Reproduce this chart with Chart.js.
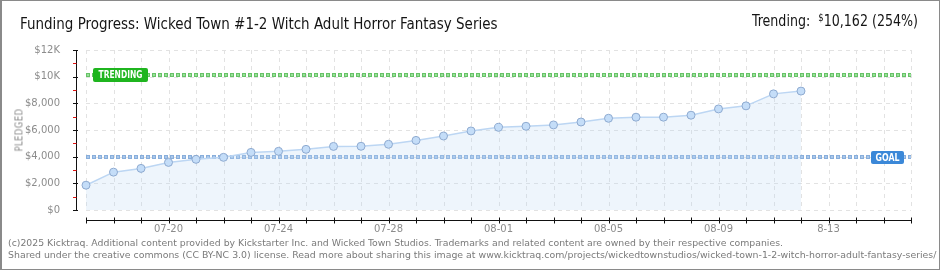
<!DOCTYPE html>
<html><head><meta charset="utf-8">
<script src="https://cdn.jsdelivr.net/npm/chart.js@4"></script>
<style>
html,body{margin:0;padding:0;background:#fff;}
#wrap{position:relative;width:940px;height:270px;overflow:hidden;background:#fff;}
#frame{position:absolute;left:0;top:0;width:940px;height:270px;box-sizing:border-box;border:1px solid #8a8a8a;border-left:2px solid #8a8a8a;pointer-events:none;}
canvas{position:absolute;left:0;top:0;}
.t{position:absolute;white-space:nowrap;transform-origin:0 50%;line-height:1.2;}
#title{font-family:"DejaVu Sans Condensed","DejaVu Sans",sans-serif;font-size:15px;color:#151515;}
#trend{font-family:"DejaVu Sans Condensed","DejaVu Sans",sans-serif;font-size:15px;color:#151515;}
#trend sup{font-size:10px;vertical-align:5px;line-height:0;}
.foot{font-family:"DejaVu Sans Condensed","DejaVu Sans",sans-serif;font-size:9px;color:#7a7a7a;}
#yt{font-family:"DejaVu Sans",sans-serif;font-size:10px;color:#8c8c8c;transform-origin:50% 50%;letter-spacing:0.5px;}
</style></head><body>
<div id="wrap">
<canvas id="c" width="940" height="270"></canvas>
<div id="title" class="t">Funding Progress: Wicked Town #1-2 Witch Adult Horror Fantasy Series</div>
<div id="trend" class="t">Trending:&nbsp; <sup>$</sup>10,162 (254%)</div>
<div id="yt" class="t">PLEDGED</div>
<div id="f1" class="t foot">(c)2025 Kicktraq. Additional content provided by Kickstarter Inc. and Wicked Town Studios. Trademarks and related content are owned by their respective companies.</div>
<div id="f2" class="t foot">Shared under the creative commons (CC BY-NC 3.0) license. Read more about sharing this image at www.kicktraq.com/projects/wickedtownstudios/wicked-town-1-2-witch-horror-adult-fantasy-series/</div>
<div id="frame"></div>
</div>
<script>
// ---- data ----
const days = ['07-17','07-18','07-19','07-20','07-21','07-22','07-23','07-24','07-25','07-26','07-27','07-28','07-29','07-30','07-31','08-01','08-02','08-03','08-04','08-05','08-06','08-07','08-08','08-09','08-10','08-11','08-12','08-13','08-14','08-15','08-16'];
const pledged = [1860,2840,3120,3570,3800,3950,4320,4400,4550,4770,4780,4930,5220,5550,5930,6200,6280,6380,6600,6880,6960,6960,7110,7580,7810,8710,8920];
const xTickText = {'07-20':'07-20','07-24':'07-24','07-28':'07-28','08-01':'08-01','08-05':'08-05','08-09':'08-09','08-13':'8-13'};
const yTickValues = [0,2000,4000,6000,8000,10000,12000];
const yTickLabels = ['$0','$2,000','$4,000','$6,000','$8,000','$10K','$12K'];
const yMinorValues = [1000,3000,5000,7000,9000,11000];
const goal = 4000;
const trending = 10162;

// ---- text placement helpers ----
function fit(id, left, cy, width, alignRight){
  const el = document.getElementById(id);
  const w = el.offsetWidth, h = el.offsetHeight;
  const s = width / w;
  el.style.left = (alignRight ? left - width : left) + 'px';
  el.style.top = (cy - h/2) + 'px';
  el.style.transform = 'scaleX(' + s + ')';
}
fit('title', 20, 24, 477);
fit('trend', 918, 21, 166, true);
fit('f1', 8, 243, 775);
fit('f2', 8, 255, 929);
(function(){
  const el = document.getElementById('yt');
  const w = el.offsetWidth, h = el.offsetHeight;
  el.style.left = (19.5 - w/2) + 'px';
  el.style.top = (130 - h/2) + 'px';
  el.style.transform = 'rotate(-90deg) scaleX(' + (43 / w) + ')';
})();

// ---- plugins ----
function dashedLine(ctx, x1, x2, y, outer, inner){
  ctx.save();
  ctx.lineCap = 'butt';
  ctx.setLineDash([4,2]);
  ctx.strokeStyle = outer; ctx.lineWidth = 4;
  ctx.beginPath(); ctx.moveTo(x1, y); ctx.lineTo(x2, y); ctx.stroke();
  ctx.setLineDash([2,4]); ctx.lineDashOffset = -1;
  ctx.strokeStyle = inner; ctx.lineWidth = 2;
  ctx.beginPath(); ctx.moveTo(x1, y); ctx.lineTo(x2, y); ctx.stroke();
  ctx.restore();
}
const backPlugin = {
  id: 'back',
  beforeDatasetsDraw(chart){
    const {ctx, chartArea:a, scales:{x, y}} = chart;
    ctx.save();
    ctx.strokeStyle = '#e2e2e2'; ctx.lineWidth = 1; ctx.setLineDash([4,4]);
    const yTop = y.getPixelForValue(12000), yBot = y.getPixelForValue(0);
    for (let i = 0; i < days.length; i++){
      const px = Math.round(x.getPixelForValue(i)) + 0.5;
      ctx.beginPath(); ctx.moveTo(px, yTop); ctx.lineTo(px, yBot); ctx.stroke();
    }
    yTickValues.forEach(v => {
      const py = Math.round(y.getPixelForValue(v)) + 0.5;
      ctx.beginPath(); ctx.moveTo(a.left, py); ctx.lineTo(a.right, py); ctx.stroke();
    });
    ctx.restore();
    const ty = Math.round(y.getPixelForValue(trending));
    const gy = Math.round(y.getPixelForValue(goal));
    dashedLine(ctx, a.left, a.right, ty, '#66c266', '#9be09b');
    dashedLine(ctx, a.left, a.right, gy, '#88aedb', '#aac8ec');
  },
  afterDatasetsDraw(chart){
    const {ctx, chartArea:a, scales:{x, y}} = chart;
    ctx.save();
    // y axis
    const ax = Math.round(a.left) - 10 + 0.5;
    const yTop = y.getPixelForValue(12000), yBot = y.getPixelForValue(0);
    ctx.strokeStyle = '#111'; ctx.lineWidth = 1;
    ctx.beginPath(); ctx.moveTo(ax, Math.round(yTop)); ctx.lineTo(ax, Math.round(yBot) + 1); ctx.stroke();
    yTickValues.forEach(v => {
      const py = Math.round(y.getPixelForValue(v)) + 0.5;
      ctx.beginPath(); ctx.moveTo(ax - 3.5, py); ctx.lineTo(ax + 1.5, py); ctx.stroke();
    });
    ctx.strokeStyle = '#e01010';
    yMinorValues.forEach(v => {
      const py = Math.round(y.getPixelForValue(v)) + 0.5;
      ctx.beginPath(); ctx.moveTo(ax - 3.5, py); ctx.lineTo(ax, py); ctx.stroke();
    });
    // x axis
    const ay = Math.round(yBot) + 10 + 0.5;
    ctx.strokeStyle = '#111';
    const x0 = Math.round(x.getPixelForValue(0)), x1 = Math.round(x.getPixelForValue(days.length - 1));
    ctx.beginPath(); ctx.moveTo(x0, ay); ctx.lineTo(x1 + 1, ay); ctx.stroke();
    for (let i = 0; i < days.length; i++){
      const px = Math.round(x.getPixelForValue(i)) + 0.5;
      ctx.beginPath(); ctx.moveTo(px, ay - 3); ctx.lineTo(px, ay + 3); ctx.stroke();
    }
    // labels
    const ty = Math.round(y.getPixelForValue(trending));
    const gy = Math.round(y.getPixelForValue(goal));
    function box(text, bx, by, bw, bh, bg, tw){
      ctx.fillStyle = bg;
      ctx.beginPath();
      if (ctx.roundRect) ctx.roundRect(bx, by, bw, bh, 2); else ctx.rect(bx, by, bw, bh);
      ctx.fill();
      ctx.fillStyle = '#fff';
      ctx.font = 'bold 10px "DejaVu Sans", sans-serif';
      ctx.textAlign = 'center'; ctx.textBaseline = 'middle';
      ctx.fillText(text, bx + bw/2, by + bh/2 + 0.5, tw);
    }
    box('TRENDING', Math.round(a.left) + 7, ty - 7, 55, 14, '#1fb51f', 44);
    box('GOAL', Math.round(a.right) - 40, gy - 6, 33, 13, '#3b88d8', 24);
    ctx.restore();
  }
};

new Chart(document.getElementById('c'), {
  type: 'line',
  data: {
    labels: days,
    datasets: [{
      data: pledged,
      borderColor: '#bcd6f3',
      borderWidth: 1.5,
      backgroundColor: 'rgba(187,215,245,0.25)',
      fill: 'origin',
      tension: 0,
      pointRadius: 4,
      pointBackgroundColor: '#c4ddf8',
      pointBorderColor: '#8eaad0',
      pointBorderWidth: 1
    }]
  },
  options: {
    responsive: false,
    animation: false,
    events: [],
    layout: {padding: {left: 0, right: 29, top: 50, bottom: 0}},
    plugins: {legend: {display: false}, tooltip: {enabled: false}, title: {display: false}},
    scales: {
      x: {
        type: 'category',
        offset: false,
        grid: {display: false},
        border: {display: false},
        ticks: {
          autoSkip: false, maxRotation: 0, minRotation: 0, padding: 5,
          color: '#8c8c8c', font: {family: '"DejaVu Sans", sans-serif', size: 10},
          callback: (v, i) => xTickText[days[i]] || ''
        },
        afterFit: s => { s.height = 60; }
      },
      y: {
        min: 0, max: 12000,
        grid: {display: false},
        border: {display: false},
        afterBuildTicks: s => { s.ticks = yTickValues.map(v => ({value: v})); },
        ticks: {
          padding: 18, color: '#8c8c8c', font: {family: '"DejaVu Sans", sans-serif', size: 10},
          callback: (v, i) => yTickLabels[i]
        },
        afterFit: s => { s.width = 86; }
      }
    }
  },
  plugins: [backPlugin]
});
</script>
</body></html>
